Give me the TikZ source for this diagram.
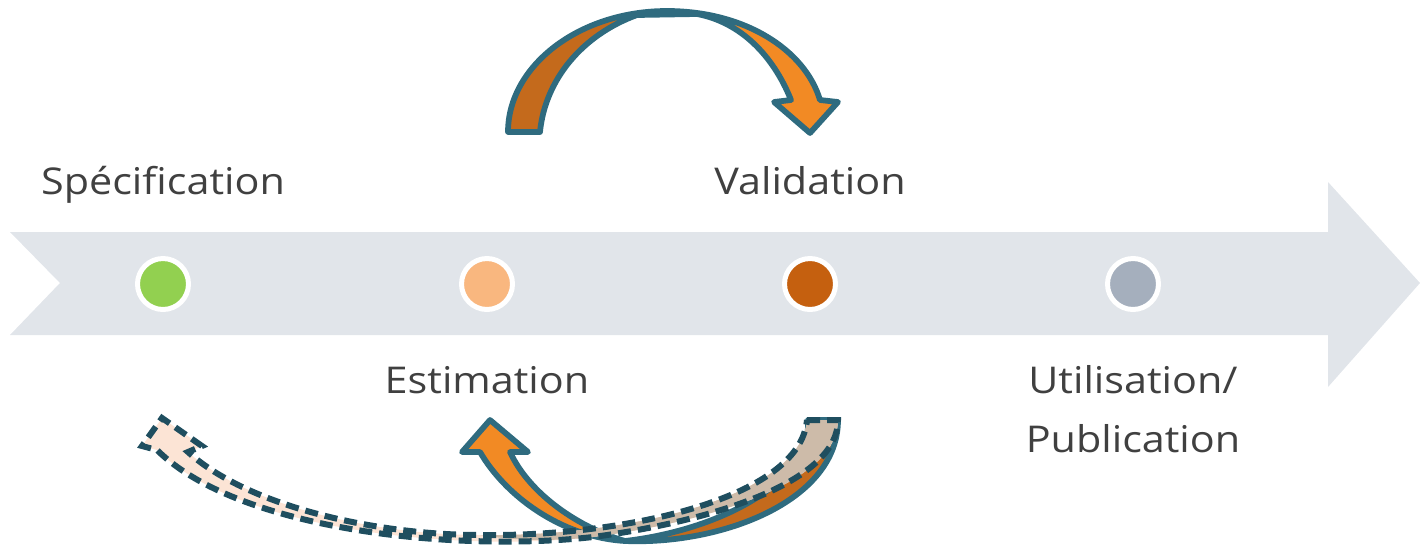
\documentclass[tikz,border=0pt]{standalone}
\usepackage{fontspec}
\setmainfont{Open Sans}[FakeStretch=1.12]
\definecolor{axe}{HTML}{E1E5EA}
\definecolor{txt}{HTML}{404040}
\definecolor{vert}{HTML}{92D050}
\definecolor{saumon}{HTML}{F9B77F}
\definecolor{rouille}{HTML}{C5600F}
\definecolor{ardoise}{HTML}{A5AFBD}
\definecolor{orclair}{HTML}{F28A24}
\definecolor{orfonce}{HTML}{C46A1C}
\definecolor{bord}{HTML}{2F6B7F}
\definecolor{bordfonce}{HTML}{1F4E5F}
\definecolor{peche}{HTML}{FCE4D5}
\definecolor{beige}{HTML}{CDBBA9}
\begin{document}
\begin{tikzpicture}[x=0.02cm,y=-0.02cm,
	etiq/.style={text=txt,font=\fontsize{21}{25}\selectfont,anchor=base,inner sep=0pt},
	pastille/.style={circle,draw=white,line width=0.1cm,minimum size=1.02cm,inner sep=0pt},
	trait/.style={draw=bord,line width=0.115cm,line join=round},
	pointille/.style={draw=bordfonce,line width=0.12cm,dash pattern=on 0.26cm off 0.14cm}]
			\useasboundingbox(0,0)rectangle(1420,545);
			\fill[axe](10,232)--(1328,232)--(1328,182)--(1420,283)--(1328,387)--(1328,335)--(10,335)--(60,283)--cycle;
			\node[pastille,fill=vert](spec)at(163,284){};
			\node[pastille,fill=saumon](esti)at(487,284){};
			\node[pastille,fill=rouille](vali)at(810,284){};
			\node[pastille,fill=ardoise](util)at(1133,284){};
			\node[etiq](tspec)at(163,194){Spécification};
			\node[etiq](tvali)at(810,194){Validation};
			\node[etiq](testi)at(487,393){Estimation};
			\node[etiq](tutil)at(1133,393){Utilisation/};
			\node[etiq](tpubl)at(1133,452){Publication};
			\fill[orclair](508,132)..controls(508,66)and(579,11)..(667,11)..controls(745,11)and(805,50)..(820,100)--(838,102)--(810,133)--(774,102)--(791,100)..controls(773,55)and(740,22)..(697,14)--(637,15)..controls(582,35)and(545,80)..(540,132)--cycle;
			\fill[orfonce](508,132)..controls(508,66)and(579,11)..(667,11)--(637,15)..controls(582,35)and(545,80)..(540,132)--cycle;
			\path[trait](508,132)..controls(508,66)and(579,11)..(667,11)..controls(745,11)and(805,50)..(820,100)--(838,102)--(810,133)--(774,102)--(791,100)..controls(773,55)and(740,22)..(697,14)--(637,15)..controls(582,35)and(545,80)..(540,132)--cycle;
			\fill[orclair](808,420)--(838,420)..controls(838,502)and(720,545)..(625,541)..controls(560,537)and(505,495)..(480,452)--(462,452)--(490,420)--(528,452)--(510,452)..controls(530,495)and(580,528)..(625,541)..controls(720,530)and(812,482)..(808,420)--cycle;
			\fill[orfonce](838,420)..controls(838,502)and(720,545)..(625,541)..controls(720,530)and(812,482)..(808,420)--cycle;
			\path[trait](808,420)--(838,420)..controls(838,502)and(720,545)..(625,541)..controls(560,537)and(505,495)..(480,452)--(462,452)--(490,420)--(528,452)--(510,452)..controls(530,495)and(580,528)..(625,541)..controls(720,530)and(812,482)..(808,420)--cycle;
			\fill[peche](807,420)--(838,420)..controls(838,480)and(720,520)..(593,537)..controls(460,552)and(240,532)..(157,450)--(142,446)--(162,418)--(202,446)--(188,452)..controls(250,508)and(380,535)..(480,535)..controls(620,537)and(800,500)..(807,420)--cycle;
			\fill[beige](480,535)..controls(620,537)and(800,500)..(807,420)--(838,420)..controls(838,480)and(720,520)..(593,537)..controls(550,542)and(510,540)..(480,535)--cycle;
			\path[pointille](807,420)--(838,420)..controls(838,480)and(720,520)..(593,537)..controls(460,552)and(240,532)..(157,450)--(142,446)--(162,418)--(202,446)--(188,452)..controls(250,508)and(380,535)..(480,535)..controls(620,537)and(800,500)..(807,420)--cycle;
		\end{tikzpicture}
\end{document}
